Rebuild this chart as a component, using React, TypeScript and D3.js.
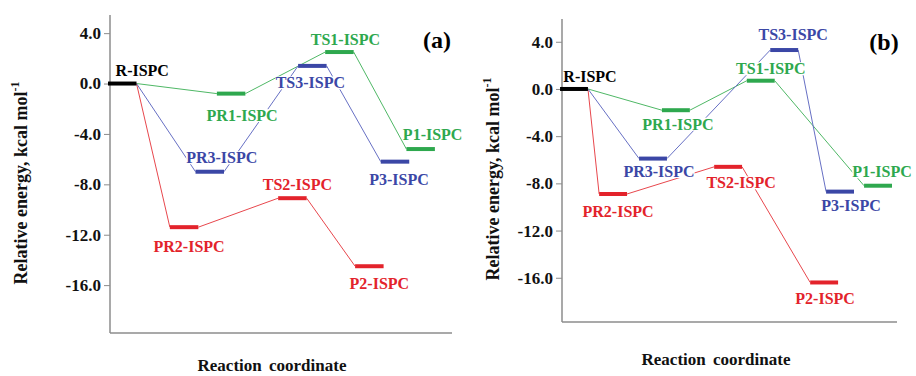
import React, { useEffect, useRef } from "react";
import * as d3 from "d3";

// ---- data ----
const states = ["R-ISPC", "PR1-ISPC", "PR2-ISPC", "PR3-ISPC", "TS1-ISPC", "TS2-ISPC", "TS3-ISPC", "P1-ISPC", "P2-ISPC", "P3-ISPC"];
const stateGroup = ["R", "1", "2", "3", "1", "2", "3", "1", "2", "3"];
const energiesA = [0.0, -0.8, -11.4, -7.0, 2.5, -9.1, 1.4, -5.2, -14.5, -6.2];
const energiesB = [0.0, -1.8, -8.9, -5.9, 0.7, -6.6, 3.3, -8.2, -16.4, -8.7];
const coordA = [-0.07, 3.75, 2.1, 3.0, 7.55, 5.9, 6.6, 10.4, 8.6, 9.5];
const coordB = [-0.07, 3.58, 1.33, 2.76, 6.62, 5.45, 7.46, 10.82, 8.89, 9.46];
const pathways = [
  { group: "1", steps: ["R-ISPC", "PR1-ISPC", "TS1-ISPC", "P1-ISPC"] },
  { group: "2", steps: ["R-ISPC", "PR2-ISPC", "TS2-ISPC", "P2-ISPC"] },
  { group: "3", steps: ["R-ISPC", "PR3-ISPC", "TS3-ISPC", "P3-ISPC"] },
];
const yTicks = [4, 0, -4, -8, -12, -16];

// ---- styles / layout ----
const barColor: Record<string, string> = { R: "#000000", "1": "#2ea84e", "2": "#e3232b", "3": "#3b47a6" };
const lineColor: Record<string, string> = { R: "#000000", "1": "#4fb866", "2": "#e8474d", "3": "#6770c4" };
const FONT = "'Liberation Serif', 'Times New Roman', Tinos, 'DejaVu Serif', serif";

const panels = [
  {
    id: "a", energies: energiesA, coords: coordA,
    left: 110, right: 452, top: 15, bottom: 333, yDomain: [-19.8, 5.44],
    tag: [437, 40], yLabel: [21, 183], xLabel: [272, 365],
    labelOffsets: [[20, -13], [11, 22], [5, 19], [12, -14], [6, -13], [5, -14], [-2, 17], [12, -15], [10, 17], [4, 18]],
  },
  {
    id: "b", energies: energiesB, coords: coordB,
    left: 562, right: 897, top: 19, bottom: 322, yDomain: [-19.75, 5.93],
    tag: [884, 42], yLabel: [493, 179], xLabel: [716, 359],
    labelOffsets: [[16, -12], [2, 14], [5, 18], [6, 13], [10, -12], [13, 16], [9, -16], [4, -14], [1, 16], [11, 14]],
  },
];

export default function App() {
  const ref = useRef<SVGSVGElement>(null);
  useEffect(() => {
    const svg = d3.select(ref.current);
    svg.selectAll("*").remove();
    panels.forEach((p) => {
      const g = svg.append("g");
      const x = d3.scaleLinear().domain([0, 12]).range([p.left, p.right]);
      const y = d3.scaleLinear().domain(p.yDomain).range([p.bottom, p.top]);
      const barW = x(1) - x(0);
      const idx = (s: string) => states.indexOf(s);

      // axes
      g.append("line").attr("x1", p.left).attr("x2", p.left).attr("y1", p.top).attr("y2", p.bottom)
        .attr("stroke", "#8c8c8c").attr("stroke-width", 1.5);
      g.append("line").attr("x1", p.left).attr("x2", p.right).attr("y1", p.bottom).attr("y2", p.bottom)
        .attr("stroke", "#8c8c8c").attr("stroke-width", 1.5);
      const fmt = d3.format(".1f");
      const ax = d3.axisLeft(y).tickValues(yTicks).tickFormat((d) => fmt(d as number).replace("\u2212", "-"))
        .tickSize(6).tickPadding(3);
      const axg = g.append("g").attr("transform", `translate(${p.left},0)`).call(ax);
      axg.select(".domain").remove();
      axg.selectAll(".tick line").attr("stroke", "#8c8c8c").attr("stroke-width", 1);
      axg.selectAll(".tick text").style("font-family", FONT).attr("font-weight", "bold")
        .attr("font-size", 17).attr("fill", "#111");

      // connecting lines
      pathways.forEach((pw) => {
        for (let k = 0; k < pw.steps.length - 1; k++) {
          const a = idx(pw.steps[k]), b = idx(pw.steps[k + 1]);
          g.append("line")
            .attr("x1", x(p.coords[a] + 1)).attr("y1", y(p.energies[a]))
            .attr("x2", x(p.coords[b])).attr("y2", y(p.energies[b]))
            .attr("stroke", lineColor[pw.group]).attr("stroke-width", 1);
        }
      });

      // level bars
      states.forEach((s, i) => {
        g.append("line")
          .attr("x1", x(p.coords[i])).attr("x2", x(p.coords[i] + 1))
          .attr("y1", y(p.energies[i])).attr("y2", y(p.energies[i]))
          .attr("stroke", barColor[stateGroup[i]]).attr("stroke-width", 4);
      });

      // labels with white background
      states.forEach((s, i) => {
        const cx = x(p.coords[i]) + barW / 2 + p.labelOffsets[i][0];
        const cy = y(p.energies[i]) + p.labelOffsets[i][1];
        const lg = g.append("g");
        const t = lg.append("text").attr("x", cx).attr("y", cy).attr("text-anchor", "middle")
          .attr("dominant-baseline", "central").style("font-family", FONT).attr("font-weight", "bold")
          .attr("font-size", 16).attr("fill", barColor[stateGroup[i]]).text(s);
        const bb = (t.node() as SVGTextElement).getBBox();
        lg.insert("rect", "text").attr("x", bb.x).attr("y", bb.y + 2).attr("width", bb.width)
          .attr("height", bb.height - 4).attr("fill", "#fff");
      });

      // panel tag
      g.append("text").attr("x", p.tag[0]).attr("y", p.tag[1]).attr("text-anchor", "middle")
        .attr("dominant-baseline", "central").style("font-family", FONT).attr("font-weight", "bold")
        .attr("font-size", 24).attr("fill", "#000").text(`(${p.id})`);

      // axis titles
      const yl = g.append("text").attr("transform", `translate(${p.yLabel[0]},${p.yLabel[1]}) rotate(-90)`)
        .attr("text-anchor", "middle").attr("dominant-baseline", "central").style("font-family", FONT)
        .attr("font-weight", "bold").attr("font-size", 18).attr("fill", "#111");
      yl.append("tspan").text("Relative energy,  kcal mol");
      yl.append("tspan").attr("dy", -6).attr("font-size", 12).text("-1");
      g.append("text").attr("x", p.xLabel[0]).attr("y", p.xLabel[1]).attr("text-anchor", "middle")
        .attr("dominant-baseline", "central").style("font-family", FONT).attr("font-weight", "bold")
        .attr("font-size", 17).attr("word-spacing", 3).attr("fill", "#111").text("Reaction coordinate");
    });
  }, []);
  return (
    <svg ref={ref} width={916} height={376} style={{ position: "absolute", left: 0, top: 0, background: "#fff" }} />
  );
}
